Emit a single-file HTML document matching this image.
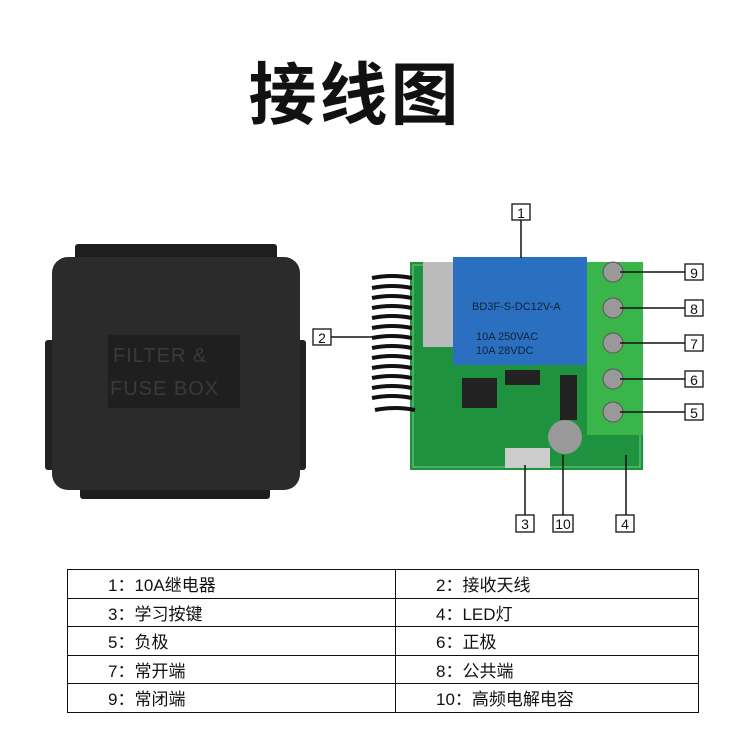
<!DOCTYPE html>
<html><head><meta charset="utf-8"><style>
body{margin:0;background:#fff;width:750px;height:751px;overflow:hidden;position:relative;font-family:"Liberation Sans","Noto Sans CJK SC",sans-serif}
.t{position:absolute;left:0;width:710px;top:40px;text-align:center;font-size:68px;font-weight:bold;color:#111;letter-spacing:3px}
table{position:absolute;left:67px;top:569px;width:631px;border-collapse:collapse;table-layout:fixed}
td{border:1.5px solid #111;height:27.5px;font-size:17px;color:#111;padding:0 0 0 40px}
</style></head><body>
<div class="t">接线图</div>
<svg width="750" height="751" style="position:absolute;left:0;top:0">
<rect x="75" y="244" width="202" height="20" rx="3" fill="#1e1e1e"/>
<rect x="80" y="482" width="190" height="17" rx="3" fill="#1e1e1e"/>
<rect x="45" y="340" width="12" height="130" rx="3" fill="#222"/>
<rect x="296" y="340" width="10" height="130" rx="3" fill="#222"/>
<rect x="52" y="257" width="248" height="233" rx="16" fill="#2b2b2b"/>
<rect x="108" y="335" width="132" height="73" fill="#1f1f1f"/>
<text x="113" y="362" font-size="20" fill="#3a3a3a" font-family="Liberation Sans" letter-spacing="1">FILTER  &amp;</text>
<text x="110" y="395" font-size="20" fill="#3a3a3a" font-family="Liberation Sans" letter-spacing="1">FUSE  BOX</text>
<rect x="410" y="262" width="233" height="208" fill="#1f9240"/>
<rect x="413" y="265" width="227" height="202" fill="none" stroke="#6fcf85" stroke-width="1"/>
<rect x="587" y="262" width="56" height="173" fill="#3ab54a"/>
<rect x="423" y="262" width="30" height="85" fill="#bbb"/>
<rect x="453" y="257" width="134" height="108" fill="#2a6fc0"/>
<text x="472" y="310" font-size="11" fill="#123" font-family="Liberation Sans">BD3F-S-DC12V-A</text>
<text x="476" y="340" font-size="11" fill="#123" font-family="Liberation Sans">10A 250VAC</text>
<text x="476" y="354" font-size="11" fill="#123" font-family="Liberation Sans">10A 28VDC</text>
<rect x="462" y="378" width="35" height="30" fill="#222"/>
<rect x="505" y="370" width="35" height="15" fill="#222"/>
<rect x="560" y="375" width="17" height="45" fill="#222"/>
<circle cx="565" cy="437" r="17" fill="#999"/>
<rect x="505" y="448" width="45" height="20" fill="#ccc"/>
<g fill="#999" stroke="#555">
<circle cx="613" cy="272" r="10"/><circle cx="613" cy="308" r="10"/><circle cx="613" cy="343" r="10"/><circle cx="613" cy="379" r="10"/><circle cx="613" cy="412" r="10"/></g>
<g stroke="#111" stroke-width="4" fill="none">
<path d="M372 278 q20 -4 40 0 M372 288 q20 -4 40 0 M372 298 q20 -4 40 0 M372 308 q20 -4 40 0 M372 318 q20 -4 40 0 M372 328 q20 -4 40 0 M372 338 q20 -4 40 0 M372 348 q20 -4 40 0 M372 358 q20 -4 40 0 M372 368 q20 -4 40 0 M372 378 q20 -4 40 0 M372 388 q20 -4 40 0 M372 398 q20 -4 40 0 M375 410 q20 -4 40 0"/>
</g>
<g stroke="#111" stroke-width="1.5">
<line x1="521" y1="220" x2="521" y2="258"/>
<line x1="331" y1="337" x2="375" y2="337"/>
<line x1="620" y1="272" x2="685" y2="272"/><line x1="620" y1="308" x2="685" y2="308"/><line x1="620" y1="343" x2="685" y2="343"/><line x1="620" y1="379" x2="685" y2="379"/><line x1="620" y1="412" x2="685" y2="412"/>
<line x1="525" y1="465" x2="525" y2="515"/><line x1="563" y1="455" x2="563" y2="515"/><line x1="626" y1="455" x2="626" y2="515"/>
</g>
<g fill="#fff" stroke="#111" stroke-width="1.3">
<rect x="512" y="204" width="18" height="16"/><rect x="313" y="329" width="18" height="16"/>
<rect x="685" y="264" width="18" height="16"/><rect x="685" y="300" width="18" height="16"/><rect x="685" y="335" width="18" height="16"/><rect x="685" y="371" width="18" height="16"/><rect x="685" y="404" width="18" height="16"/>
<rect x="516" y="515" width="18" height="17"/><rect x="553" y="515" width="20" height="17"/><rect x="616" y="515" width="18" height="17"/>
</g>
<g font-size="14" fill="#111" text-anchor="middle" font-family="Liberation Sans">
<text x="521" y="218">1</text><text x="322" y="343">2</text>
<text x="694" y="278">9</text><text x="694" y="314">8</text><text x="694" y="349">7</text><text x="694" y="385">6</text><text x="694" y="418">5</text>
<text x="525" y="529">3</text><text x="563" y="529">10</text><text x="625" y="529">4</text>
</g>
</svg>
<table>
<colgroup><col style="width:328px"><col style="width:303px"></colgroup>
<tr><td>1：10A继电器</td><td>2：接收天线</td></tr>
<tr><td>3：学习按键</td><td>4：LED灯</td></tr>
<tr><td>5：负极</td><td>6：正极</td></tr>
<tr><td>7：常开端</td><td>8：公共端</td></tr>
<tr><td>9：常闭端</td><td>10：高频电解电容</td></tr>
</table>
</body></html>
